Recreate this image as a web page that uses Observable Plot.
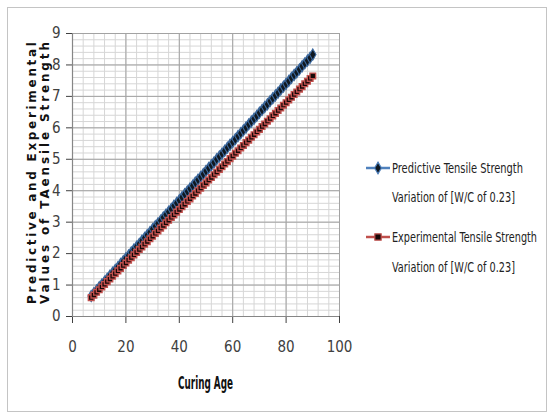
<!DOCTYPE html>
<html><head><meta charset="utf-8">
<script src="https://cdn.jsdelivr.net/npm/d3@7"></script>
<script src="https://cdn.jsdelivr.net/npm/@observablehq/plot@0.6"></script>
<style>
body{margin:0;background:#fff;}
#wrap{position:relative;width:548px;height:418px;overflow:hidden;background:#fff;}
#wrap svg{position:absolute;left:0;top:0;}
</style></head><body><div id="wrap"></div>
<script>
const curingAge = [7,8,9,10,11,12,13,14,15,16,17,18,19,20,21,22,23,24,25,26,27,28,29,30,31,32,33,34,35,36,37,38,39,40,41,42,43,44,45,46,47,48,49,50,51,52,53,54,55,56,57,58,59,60,61,62,63,64,65,66,67,68,69,70,71,72,73,74,75,76,77,78,79,80,81,82,83,84,85,86,87,88,89,90];
const predictive = [0.65,0.74,0.83,0.93,1.02,1.11,1.20,1.30,1.39,1.48,1.57,1.67,1.76,1.85,1.94,2.04,2.13,2.22,2.31,2.41,2.50,2.59,2.68,2.78,2.87,2.96,3.05,3.15,3.24,3.33,3.42,3.52,3.61,3.70,3.79,3.89,3.98,4.07,4.16,4.26,4.35,4.44,4.53,4.63,4.72,4.81,4.90,5.00,5.09,5.18,5.27,5.37,5.46,5.55,5.64,5.74,5.83,5.92,6.01,6.11,6.20,6.29,6.38,6.48,6.57,6.66,6.75,6.85,6.94,7.03,7.12,7.22,7.31,7.40,7.49,7.59,7.68,7.77,7.86,7.96,8.05,8.14,8.23,8.33];
const experimental = [0.60,0.68,0.77,0.85,0.94,1.02,1.11,1.19,1.28,1.36,1.45,1.53,1.62,1.70,1.79,1.87,1.96,2.04,2.13,2.21,2.30,2.38,2.47,2.55,2.64,2.72,2.81,2.89,2.98,3.06,3.15,3.23,3.32,3.40,3.49,3.57,3.66,3.74,3.83,3.91,4.00,4.08,4.17,4.25,4.34,4.42,4.51,4.59,4.68,4.76,4.85,4.93,5.02,5.10,5.19,5.27,5.36,5.44,5.53,5.61,5.70,5.78,5.87,5.95,6.04,6.12,6.21,6.29,6.38,6.46,6.55,6.63,6.72,6.80,6.89,6.97,7.06,7.14,7.23,7.31,7.40,7.48,7.57,7.65];
const xTicks = [0,20,40,60,80,100];
const yTicks = [0,1,2,3,4,5,6,7,8,9];
const seriesNames = ["Predictive Tensile Strength", "Experimental Tensile Strength"];
const seriesSub = "Variation of [W/C of 0.23]";
const xTitle = "Curing Age";
const yTitle = ["Predictive and Experimental", "Values of TAensile Strength"];

const xMinor = d3.range(0, 101, 4);
const yMinor = d3.range(0, 9.001, 0.2);

const predRows = curingAge.map((a, i) => ({age: a, v: predictive[i]}));
const expRows = curingAge.map((a, i) => ({age: a, v: experimental[i]}));

const font = "'Liberation Sans Narrow','DejaVu Sans Condensed',sans-serif";

const chart = Plot.plot({
  width: 548, height: 418,
  marginLeft: 72, marginRight: 209, marginTop: 33, marginBottom: 102,
  style: {fontFamily: font, fontSize: "15px", color: "#404040", background: "transparent"},
  x: {domain: [0, 100], ticks: xTicks, tickSize: 7, tickPadding: 18, label: null},
  y: {domain: [0, 9], ticks: yTicks, tickSize: 6, tickPadding: 6, label: null},
  marks: [
    Plot.ruleX(xMinor, {stroke: "#d6d6d6", strokeWidth: 1}),
    Plot.ruleY(yMinor, {stroke: "#d6d6d6", strokeWidth: 1}),
    Plot.ruleX(xTicks, {stroke: "#a3a3a3", strokeWidth: 1}),
    Plot.ruleY(yTicks, {stroke: "#a3a3a3", strokeWidth: 1}),
    Plot.ruleX([0], {stroke: "#868686", strokeWidth: 1.2}),
    Plot.ruleY([0], {stroke: "#868686", strokeWidth: 1.2}),
    Plot.line(predRows, {x: "age", y: "v", stroke: "#4F81BD", strokeWidth: 2.5}),
    Plot.dot(predRows, {x: "age", y: "v", symbol: "diamond", r: 3.4, fill: "#101820", stroke: "#3d6aa0", strokeWidth: 1.1}),
    Plot.line(expRows, {x: "age", y: "v", stroke: "#C0504D", strokeWidth: 2.5}),
    Plot.dot(expRows, {x: "age", y: "v", symbol: "square", r: 3.2, fill: "#150808", stroke: "#C0504D", strokeWidth: 1.4})
  ]
});
document.getElementById("wrap").appendChild(chart);

const svg = d3.select(chart);
// outer border
svg.append("rect").attr("x", 7.5).attr("y", 7.5).attr("width", 539).attr("height", 404)
  .attr("fill", "none").attr("stroke", "#c4c4c4");

// y title (rotated, two lines)
[[31, yTitle[0]], [44, yTitle[1]]].forEach(([x, t]) => {
  svg.append("text")
    .attr("transform", `translate(${x + 5},173) rotate(-90)`)
    .style("text-anchor", "middle")
    .style("font-family", "'DejaVu Sans',Verdana,sans-serif").style("font-weight", "700")
    .style("font-size", "12px").style("fill", "#111")
    .attr("textLength", 262).attr("lengthAdjust", "spacing")
    .text(t);
});

// x title
svg.append("text").attr("x", 205.5).attr("y", 389)
  .style("text-anchor", "middle")
  .style("font-family", font).style("font-weight", "700").style("font-size", "17px")
  .style("fill", "#111").attr("textLength", 55).attr("lengthAdjust", "spacingAndGlyphs")
  .text(xTitle);

// legend
const leg = [
  {y: 168, name: seriesNames[0], w: 131, color: "#4F81BD", sym: d3.symbolDiamond, fill: "#101820", size: 40, subBase: 202},
  {y: 237, name: seriesNames[1], w: 145, color: "#C0504D", sym: d3.symbolSquare, fill: "#150808", size: 40, subBase: 272}
];
function legText(x, y, t, w) {
  svg.append("text").attr("transform", `translate(${x},${y}) scale(1,1.35)`)
    .style("text-anchor", "start").style("font-family", font).style("font-size", "10.5px")
    .style("fill", "#222").attr("textLength", w).attr("lengthAdjust", "spacingAndGlyphs").text(t);
}
leg.forEach(l => {
  svg.append("line").attr("x1", 366).attr("x2", 390).attr("y1", l.y).attr("y2", l.y)
    .attr("stroke", l.color).attr("stroke-width", 2.5);
  svg.append("path").attr("d", d3.symbol(l.sym, l.size)())
    .attr("transform", `translate(378,${l.y})`).attr("fill", l.fill).attr("stroke", l.color).attr("stroke-width", 1.2);
  legText(392, l.y + 5, l.name, l.w);
  legText(392, l.subBase, seriesSub, 123);
});
</script>
</body></html>
